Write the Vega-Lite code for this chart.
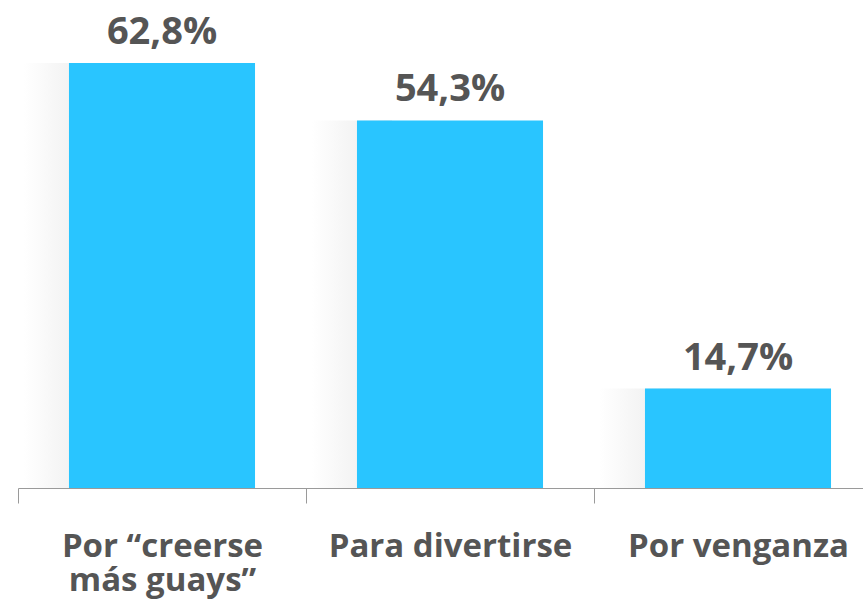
{
  "$schema": "https://vega.github.io/schema/vega-lite/v6.json",
  "width": 864,
  "height": 488,
  "autosize": {"type": "none"},
  "padding": {"left": 18, "top": 0, "right": 0, "bottom": 112},
  "background": "white",
  "config": {"view": {"stroke": null}},
  "data": {
    "values": [
      {"cat": "Por “creerse|más guays”", "v": 62.8},
      {"cat": "Para divertirse", "v": 54.3},
      {"cat": "Por venganza", "v": 14.7}
    ]
  },
  "transform": [
    {"calculate": "replace(format(datum.v, '.1f'), '.', ',') + '%'", "as": "lbl"}
  ],
  "encoding": {
    "x": {
      "field": "cat",
      "type": "nominal",
      "sort": null,
      "scale": {"paddingInner": 0, "paddingOuter": 0},
      "axis": {
        "title": null,
        "labelAngle": 0,
        "labelExpr": "split(datum.label, '|')",
        "labelFont": "Open Sans",
        "labelFontSize": 33,
        "labelFontWeight": "bold",
        "labelColor": "#555555",
        "labelLineHeight": 34,
        "labelPadding": 27,
        "tickBand": "extent",
        "tickSize": 15,
        "tickColor": "#9a9a9a",
        "domainColor": "#9a9a9a",
        "labelLimit": 400
      }
    },
    "y": {
      "field": "v",
      "type": "quantitative",
      "scale": {"domain": [0, 72.1]},
      "axis": null
    }
  },
  "layer": [
    {
      "mark": {
        "type": "bar",
        "width": 80,
        "xOffset": -98,
        "color": {
          "gradient": "linear",
          "x1": 0, "x2": 1, "y1": 0, "y2": 0,
          "stops": [
            {"offset": 0, "color": "#ffffff"},
            {"offset": 0.6, "color": "#f2f2f2"},
            {"offset": 1, "color": "#e0e0e0"}
          ]
        }
      }
    },
    {
      "mark": {"type": "bar", "color": "#29C5FF", "width": {"band": 0.646}}
    },
    {
      "mark": {
        "type": "text",
        "baseline": "alphabetic",
        "dy": -19,
        "font": "Open Sans",
        "fontSize": 38,
        "fontWeight": "bold",
        "color": "#555555"
      },
      "encoding": {"text": {"field": "lbl"}}
    }
  ]
}
